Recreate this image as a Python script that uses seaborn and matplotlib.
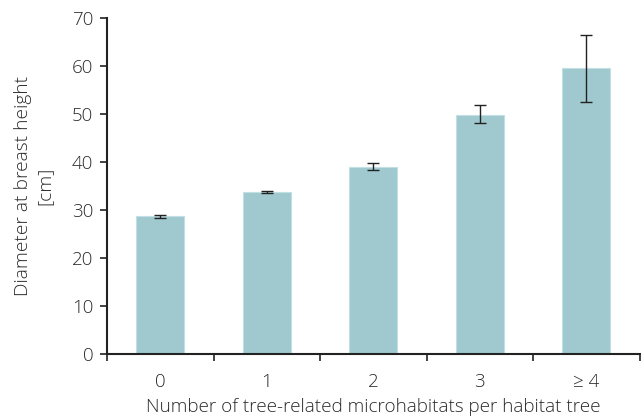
import numpy as np
import pandas as pd
import seaborn as sns
import matplotlib.pyplot as plt
from matplotlib.ticker import FixedLocator

categories = ['0', '1', '2', '3', '≥ 4']
dbh_mean = [28.7, 33.7, 39.0, 49.7, 59.5]
err_low = [0.3, 0.2, 0.7, 1.6, 7.0]
err_high = [0.3, 0.2, 0.7, 2.1, 7.0]

df = pd.DataFrame({'Category': categories, 'DBH': dbh_mean})

sns.set_style("ticks")
plt.rcParams['font.family'] = ['Open Sans', 'DejaVu Sans']
plt.rcParams['font.weight'] = 'light'
plt.rcParams['axes.labelweight'] = 'light'

fig = plt.figure(figsize=(6.41, 4.19), dpi=100)
ax = fig.add_axes([0.167, 0.155, 0.831, 0.802])

sns.barplot(data=df, x='Category', y='DBH', color='#9fc9cf', saturation=1,
            width=0.45, edgecolor='#c2e0e3', linewidth=0.8, ax=ax)

# Słupki błędów
ax.errorbar(np.arange(len(categories)), dbh_mean, yerr=[err_low, err_high],
            fmt='none', ecolor='#222222', elinewidth=1, capsize=4, capthick=1)

text_col = '#2b2b2b'
ax.set_xlim(-0.5, len(categories) - 0.5)
ax.set_ylim(0, 70)
ax.set_yticks(range(0, 71, 10))

# Kreski na granicach kategorii, etykiety w środku
ax.xaxis.set_major_locator(FixedLocator(np.arange(-0.5, len(categories), 1.0)))
ax.set_xticklabels([''] * (len(categories) + 1))
ax.xaxis.set_minor_locator(FixedLocator(np.arange(len(categories))))
ax.set_xticklabels(categories, minor=True)
ax.tick_params(axis='x', which='minor', length=0, pad=14, labelsize=13.5, labelcolor=text_col)
ax.tick_params(axis='x', which='major', length=5, width=1.2, color='#222222')
ax.tick_params(axis='y', length=5, width=1.2, color='#222222', labelsize=13.5,
               labelcolor=text_col, pad=5)

for s in ['left', 'bottom']:
    ax.spines[s].set_color('#222222')
    ax.spines[s].set_linewidth(1.5)
sns.despine(ax=ax)

ax.set_xlabel('Number of tree-related microhabitats per habitat tree',
              fontsize=13.6, color=text_col, labelpad=5)
ax.set_ylabel('Diameter at breast height\n[cm]', fontsize=13.8, color=text_col,
              labelpad=13, linespacing=1.3)

fig.savefig('out.png', dpi=100)
